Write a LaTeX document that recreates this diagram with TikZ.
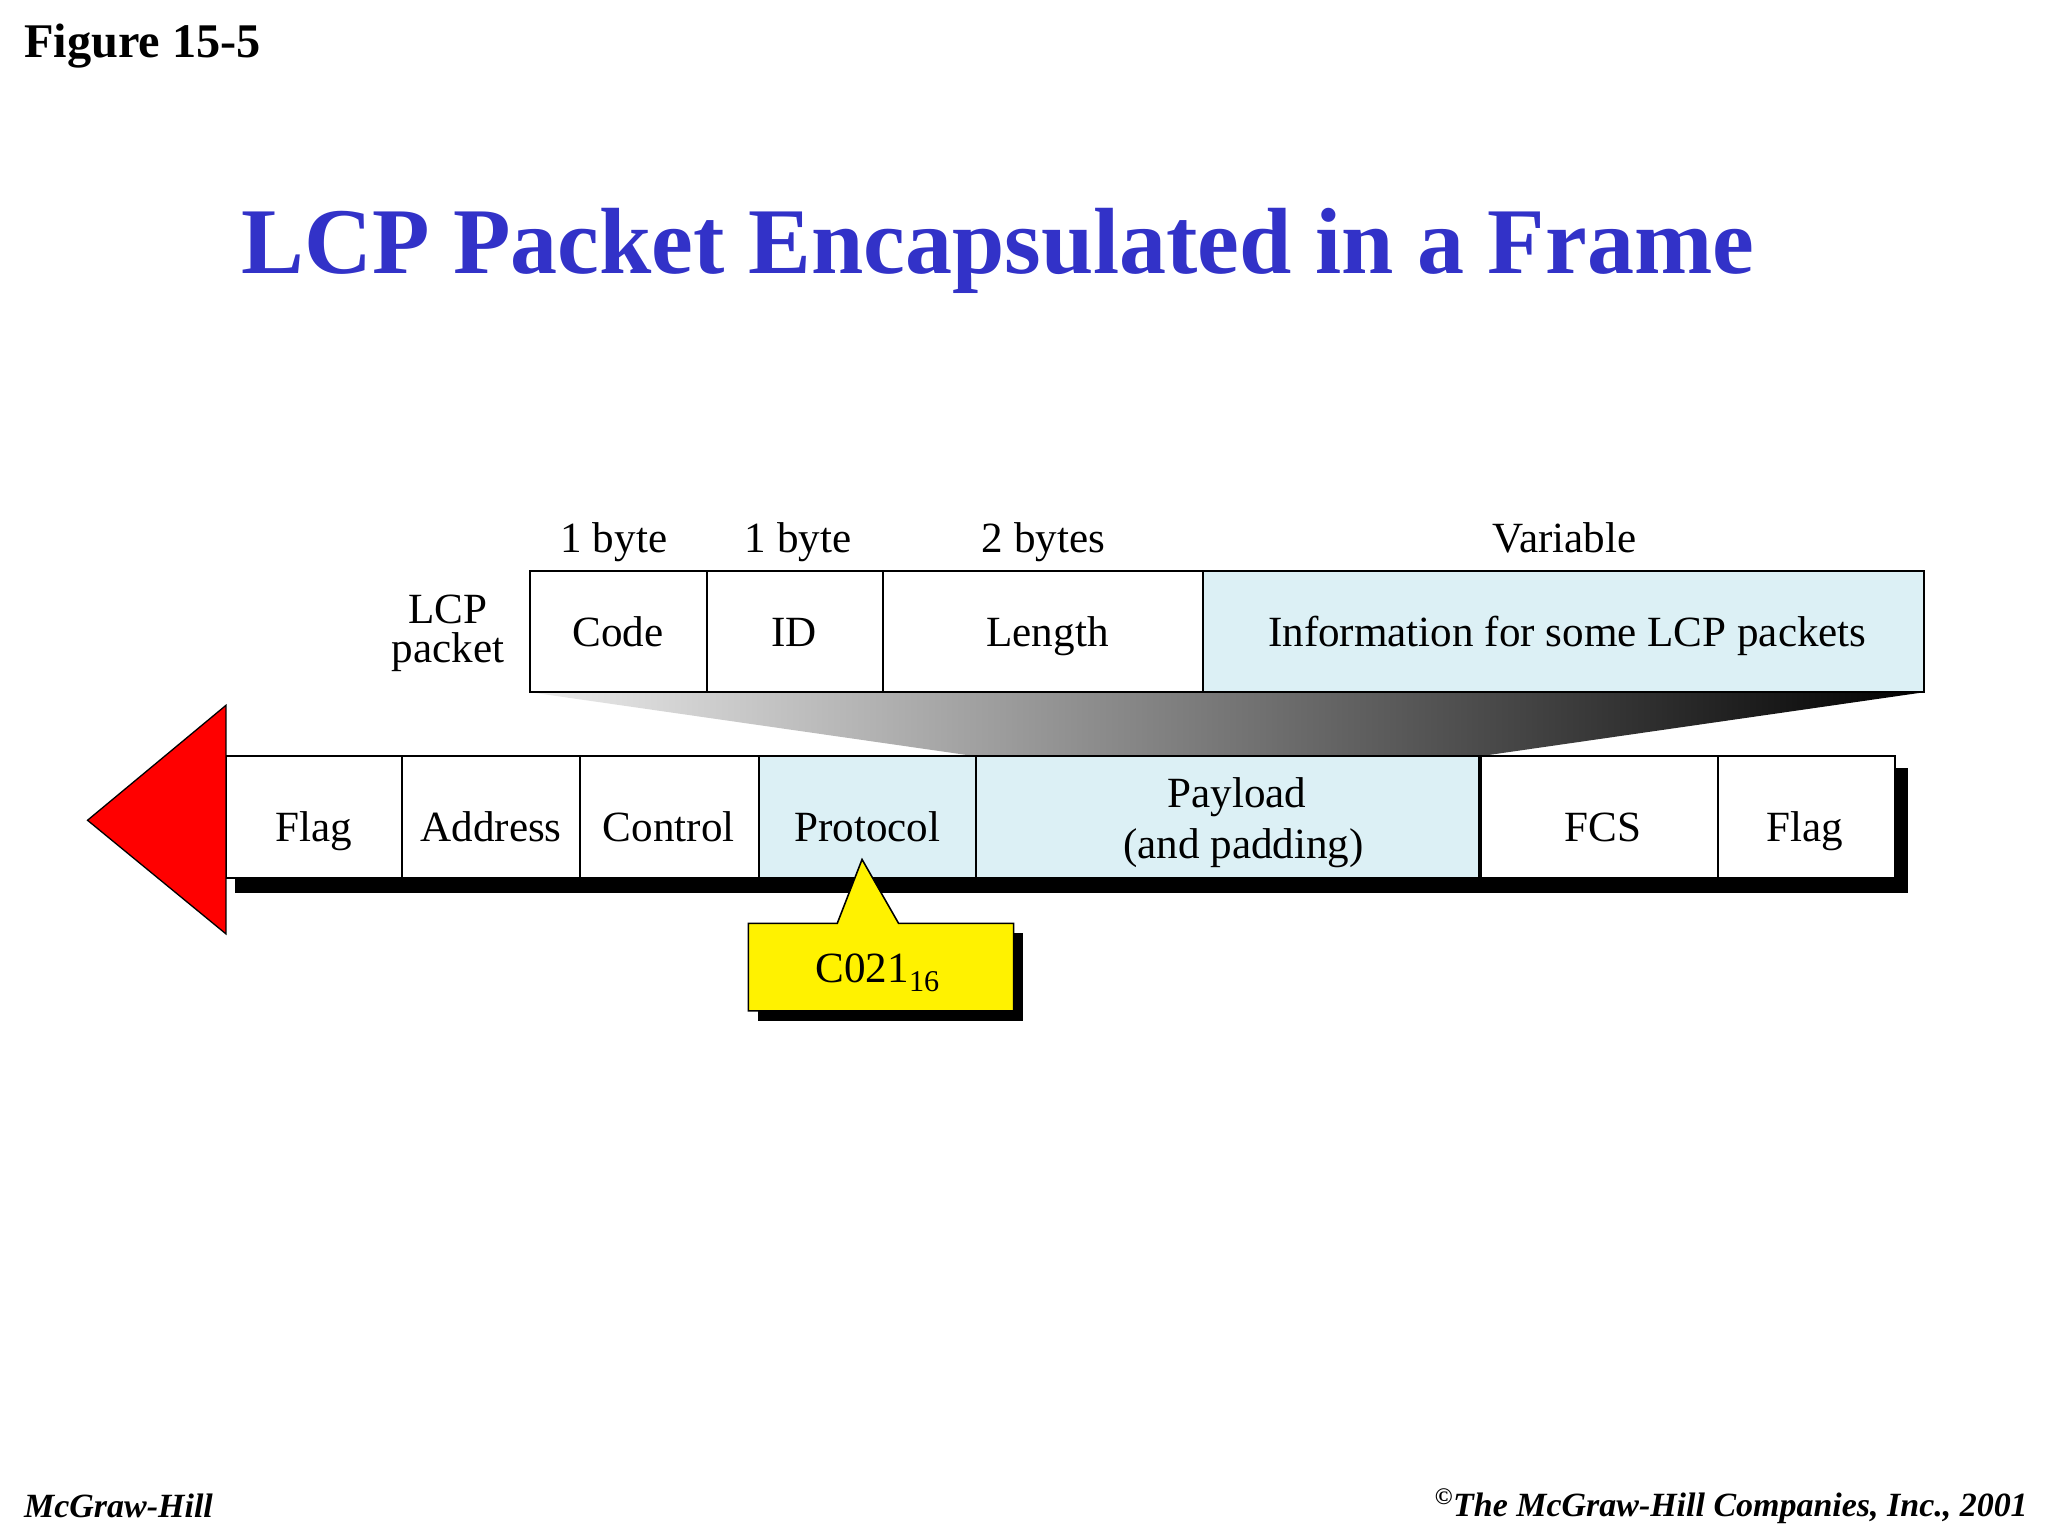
\documentclass[tikz,border=0pt]{standalone}
\usepackage{fontspec}
\setmainfont{Liberation Serif}
\begin{document}
\begin{tikzpicture}[x=1pt,y=-1pt,
  fld/.style={draw=black,line width=1.5pt},
  lbl/.style={font=\fontsize{33}{36}\selectfont,anchor=base},
  ml/.style={font=\fontsize{33}{38}\selectfont,align=center}]
\useasboundingbox (0,0) rectangle (1568,1176);
\definecolor{lcyan}{RGB}{220,240,245}
\definecolor{tblue}{RGB}{50,50,200}
\node[anchor=west,font=\fontsize{37}{40}\selectfont\bfseries] (fig) at (15,35) {Figure 15-5};
\node[font=\fontsize{72}{76}\selectfont\bfseries,text=tblue] (title) at (764,192) {LCP Packet Encapsulated in a Frame};
% gradient trapezoid
\shade[left color=white!85!gray, right color=black] (406,530) -- (1473,530) -- (1133,579) -- (747,579) -- cycle;
% LCP packet row
\fill[lcyan] (921,437) rectangle (1473,530);
\draw[fld] (406,437) rectangle (1473,530);
\foreach \x in {541,676,921} \draw[fld] (\x,437) -- (\x,530);
\node[lbl] (code) at (473,495) {Code};
\node[lbl] (id) at (608,495) {ID};
\node[lbl] (len) at (802,495) {Length};
\node[lbl] (info) at (1200,495) {Information for some LCP packets};
\node[lbl] (b1) at (470,423) {1 byte};
\node[lbl] (b2) at (611,423) {1 byte};
\node[lbl] (b3) at (799,423) {2 bytes};
\node[lbl] (var) at (1198,423) {Variable};
\node[lbl] (lcp1) at (343,477) {LCP};
\node[lbl] (lcp2) at (343,507) {packet};
% frame shadow
\fill[black] (180,672) rectangle (1461,684);
\fill[black] (1451,588) rectangle (1461,684);
% frame
\fill[lcyan] (581,579) rectangle (1133,672);
\draw[fld] (173,579) rectangle (1451,672);
\foreach \x in {308,444,581,747,1315} \draw[fld] (\x,579) -- (\x,672);
\draw[line width=3pt] (1133,579) -- (1133,672);
\node[lbl] (f1) at (240,644) {Flag};
\node[lbl] (addr) at (376,644) {Address};
\node[lbl] (ctrl) at (512,644) {Control};
\node[lbl] (prot) at (664,644) {Protocol};
\node[lbl] (pay1) at (947,618) {Payload};
\node[lbl] (pay2) at (952,657) {(and padding)};
\node[lbl] (fcs) at (1227,644) {FCS};
\node[lbl] (f2) at (1382,644) {Flag};
% red arrow
\filldraw[fill=red,draw=black,line width=1pt] (173,540) -- (67,628) -- (173,715) -- cycle;
% callout
\fill[black] (580,714) rectangle (783,782);
\filldraw[fill=yellow,draw=black,line width=1.2pt] (573,707) -- (641,707) -- (660,658) -- (688,707) -- (776,707) -- (776,774) -- (573,774) -- cycle;
\node[lbl] (c021) at (672,752) {C021\textsubscript{16}};
% footer
\node[anchor=west,font=\fontsize{26}{28}\selectfont\itshape\bfseries] (mh) at (15,1153) {McGraw-Hill};
\node[anchor=east,font=\fontsize{26}{28}\selectfont\itshape\bfseries] (copy) at (1556,1153) {\textsuperscript{\textcopyright}The McGraw-Hill Companies, Inc., 2001};
\end{tikzpicture}
\end{document}
